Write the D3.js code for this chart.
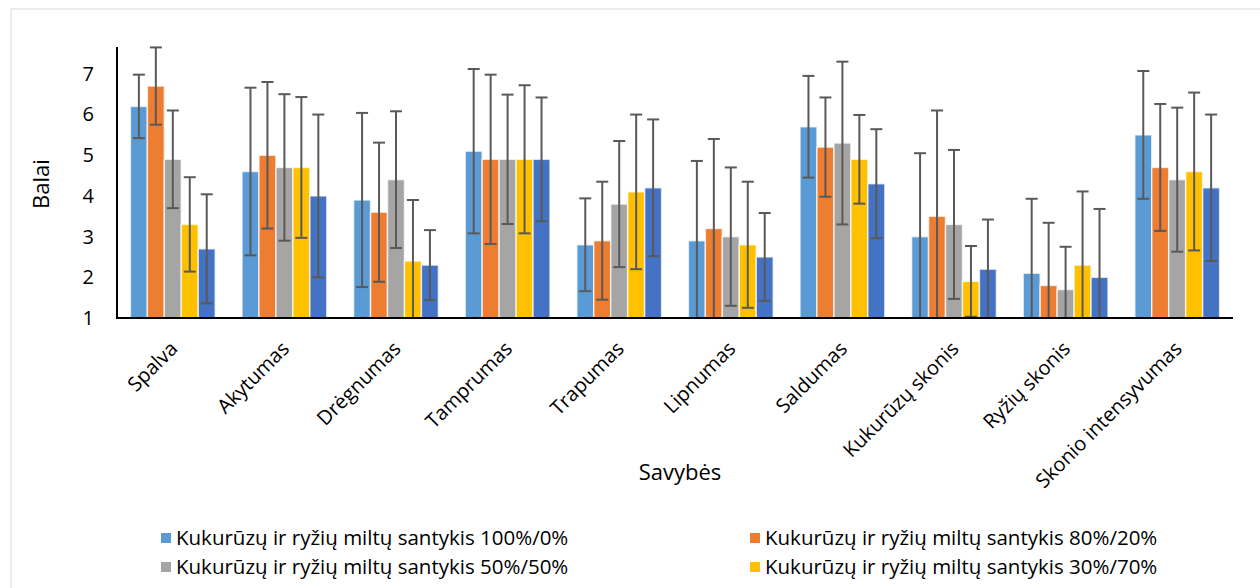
<!DOCTYPE html>
<html>
<head>
<meta charset="utf-8">
<script src="https://cdn.jsdelivr.net/npm/d3@7"></script>
<style>
  html, body { margin: 0; padding: 0; background: #fff; }
  svg { display: block; font-family: "Open Sans", "Noto Sans", sans-serif; }
</style>
</head>
<body>
<svg id="chart" width="1260" height="588"></svg>
<script>
const categories = ["Spalva", "Akytumas", "Drėgnumas", "Tamprumas", "Trapumas", "Lipnumas", "Saldumas", "Kukurūzų skonis", "Ryžių skonis", "Skonio intensyvumas"];
const seriesNames = [
  "Kukurūzų ir ryžių miltų santykis 100%/0%",
  "Kukurūzų ir ryžių miltų santykis 80%/20%",
  "Kukurūzų ir ryžių miltų santykis 50%/50%",
  "Kukurūzų ir ryžių miltų santykis 30%/70%",
  "Kukurūzų ir ryžių miltų santykis 0%/100%"
];
const colors = ["#5B9BD5", "#ED7D31", "#A5A5A5", "#FFC000", "#4472C4"];
const values100 = [6.2, 4.6, 3.9, 5.1, 2.8, 2.9, 5.7, 3.0, 2.1, 5.5];
const values80  = [6.7, 5.0, 3.6, 4.9, 2.9, 3.2, 5.2, 3.5, 1.8, 4.7];
const values50  = [4.9, 4.7, 4.4, 4.9, 3.8, 3.0, 5.3, 3.3, 1.7, 4.4];
const values30  = [3.3, 4.7, 2.4, 4.9, 4.1, 2.8, 4.9, 1.9, 2.3, 4.6];
const values0   = [2.7, 4.0, 2.3, 4.9, 4.2, 2.5, 4.3, 2.2, 2.0, 4.2];
const err100 = [0.78, 2.06, 2.14, 2.02, 1.14, 1.96, 1.25, 2.05, 1.83, 1.57];
const err80  = [0.95, 1.80, 1.71, 2.08, 1.45, 2.20, 1.22, 2.60, 1.54, 1.56];
const err50  = [1.20, 1.80, 1.68, 1.59, 1.55, 1.70, 2.00, 1.83, 1.05, 1.77];
const err30  = [1.16, 1.73, 1.50, 1.82, 1.90, 1.55, 1.09, 0.87, 1.81, 1.94];
const err0   = [1.34, 2.00, 0.86, 1.52, 1.68, 1.08, 1.34, 1.22, 1.68, 1.80];
const yTicks = [1, 2, 3, 4, 5, 6, 7];

const seriesValues = [values100, values80, values50, values30, values0];
const seriesErrors = [err100, err80, err50, err30, err0];

(function () {
const svg = d3.select("#chart");
const pL = 117, pR = 1233, pT = 47, pB = 318;
const yMin = 1, yMax = 7.66;

// chart border
svg.append("rect").attr("x", 11).attr("y", 9).attr("width", 1260).attr("height", 600)
  .attr("fill", "none").attr("stroke", "#d9d9d9").attr("stroke-width", 1);

const x0 = d3.scaleBand().domain(categories).range([pL, pR]).paddingInner(0.24).paddingOuter(0.12);
const x1 = d3.scaleBand().domain(d3.range(seriesNames.length)).range([0, x0.bandwidth()]);
const y = d3.scaleLinear().domain([yMin, yMax]).range([pB, pT]);

const data = [];
categories.forEach((c, i) => {
  seriesNames.forEach((s, j) => {
    data.push({cat: c, s: j, v: seriesValues[j][i], e: seriesErrors[j][i]});
  });
});

// bars
svg.append("g").selectAll("rect").data(data).join("rect")
  .attr("x", d => x0(d.cat) + x1(d.s))
  .attr("y", d => y(d.v))
  .attr("width", x1.bandwidth())
  .attr("height", d => y(yMin) - y(d.v))
  .attr("fill", d => colors[d.s])
  .attr("stroke", "#fff").attr("stroke-opacity", 0.7).attr("stroke-width", 1.5);

// error bars
const eg = svg.append("g").attr("stroke", "#595959").attr("stroke-width", 2);
data.forEach(d => {
  const cx = x0(d.cat) + x1(d.s) + x1.bandwidth() / 2;
  const hi = d.v + d.e, lo = d.v - d.e;
  const yHi = y(hi), yLo = y(Math.max(lo, yMin));
  eg.append("line").attr("x1", cx).attr("x2", cx).attr("y1", yHi).attr("y2", yLo);
  eg.append("line").attr("x1", cx - 6).attr("x2", cx + 6).attr("y1", yHi).attr("y2", yHi);
  if (lo >= yMin) eg.append("line").attr("x1", cx - 6).attr("x2", cx + 6).attr("y1", yLo).attr("y2", yLo);
});

// axes
const yAxis = d3.axisLeft(y).tickValues(yTicks).tickSize(0).tickPadding(23).tickFormat(d3.format("d"));
const gy = svg.append("g").attr("transform", `translate(${pL},0)`).call(yAxis);
gy.select(".domain").attr("stroke", "#000").attr("stroke-width", 2).attr("d", `M0,${pT}V${pB}`);
gy.selectAll("text").attr("font-size", 20).attr("fill", "#000").attr("font-family", "'Open Sans', sans-serif");

const xAxis = d3.axisBottom(x0).tickSize(0).tickFormat("");
const gx = svg.append("g").attr("transform", `translate(0,${pB})`).call(xAxis);
gx.select(".domain").attr("stroke", "#000").attr("stroke-width", 2).attr("d", `M${pL - 1},0H${pR}`);

svg.append("g").selectAll("text").data(categories).join("text")
  .attr("transform", d => `translate(${x0(d) + x0.bandwidth() / 2 + 6},${pB + 32}) rotate(-45)`)
  .attr("text-anchor", "end")
  .attr("font-size", 20).attr("fill", "#000")
  .text(d => d);

// axis titles
svg.append("text").attr("transform", `translate(49,184) rotate(-90)`)
  .attr("text-anchor", "middle").attr("font-size", 22).attr("fill", "#000").text("Balai");
svg.append("text").attr("x", 680).attr("y", 480)
  .attr("text-anchor", "middle").attr("font-size", 22).attr("fill", "#000").text("Savybės");

// legend (fifth entry lies below the visible area in the reference)
const legPos = [[161, 545], [750, 545], [161, 574], [750, 574]];
const lg = svg.append("g").selectAll("g").data(seriesNames.slice(0, legPos.length)).join("g")
  .attr("transform", (d, i) => `translate(${legPos[i][0]},${legPos[i][1]})`);
lg.append("rect").attr("x", 0).attr("y", -12).attr("width", 10).attr("height", 10).attr("fill", (d, i) => colors[i]);
lg.append("text").attr("x", 15).attr("y", 0).attr("font-size", 20.5).attr("fill", "#000").text(d => d);
})();
</script>
</body>
</html>
